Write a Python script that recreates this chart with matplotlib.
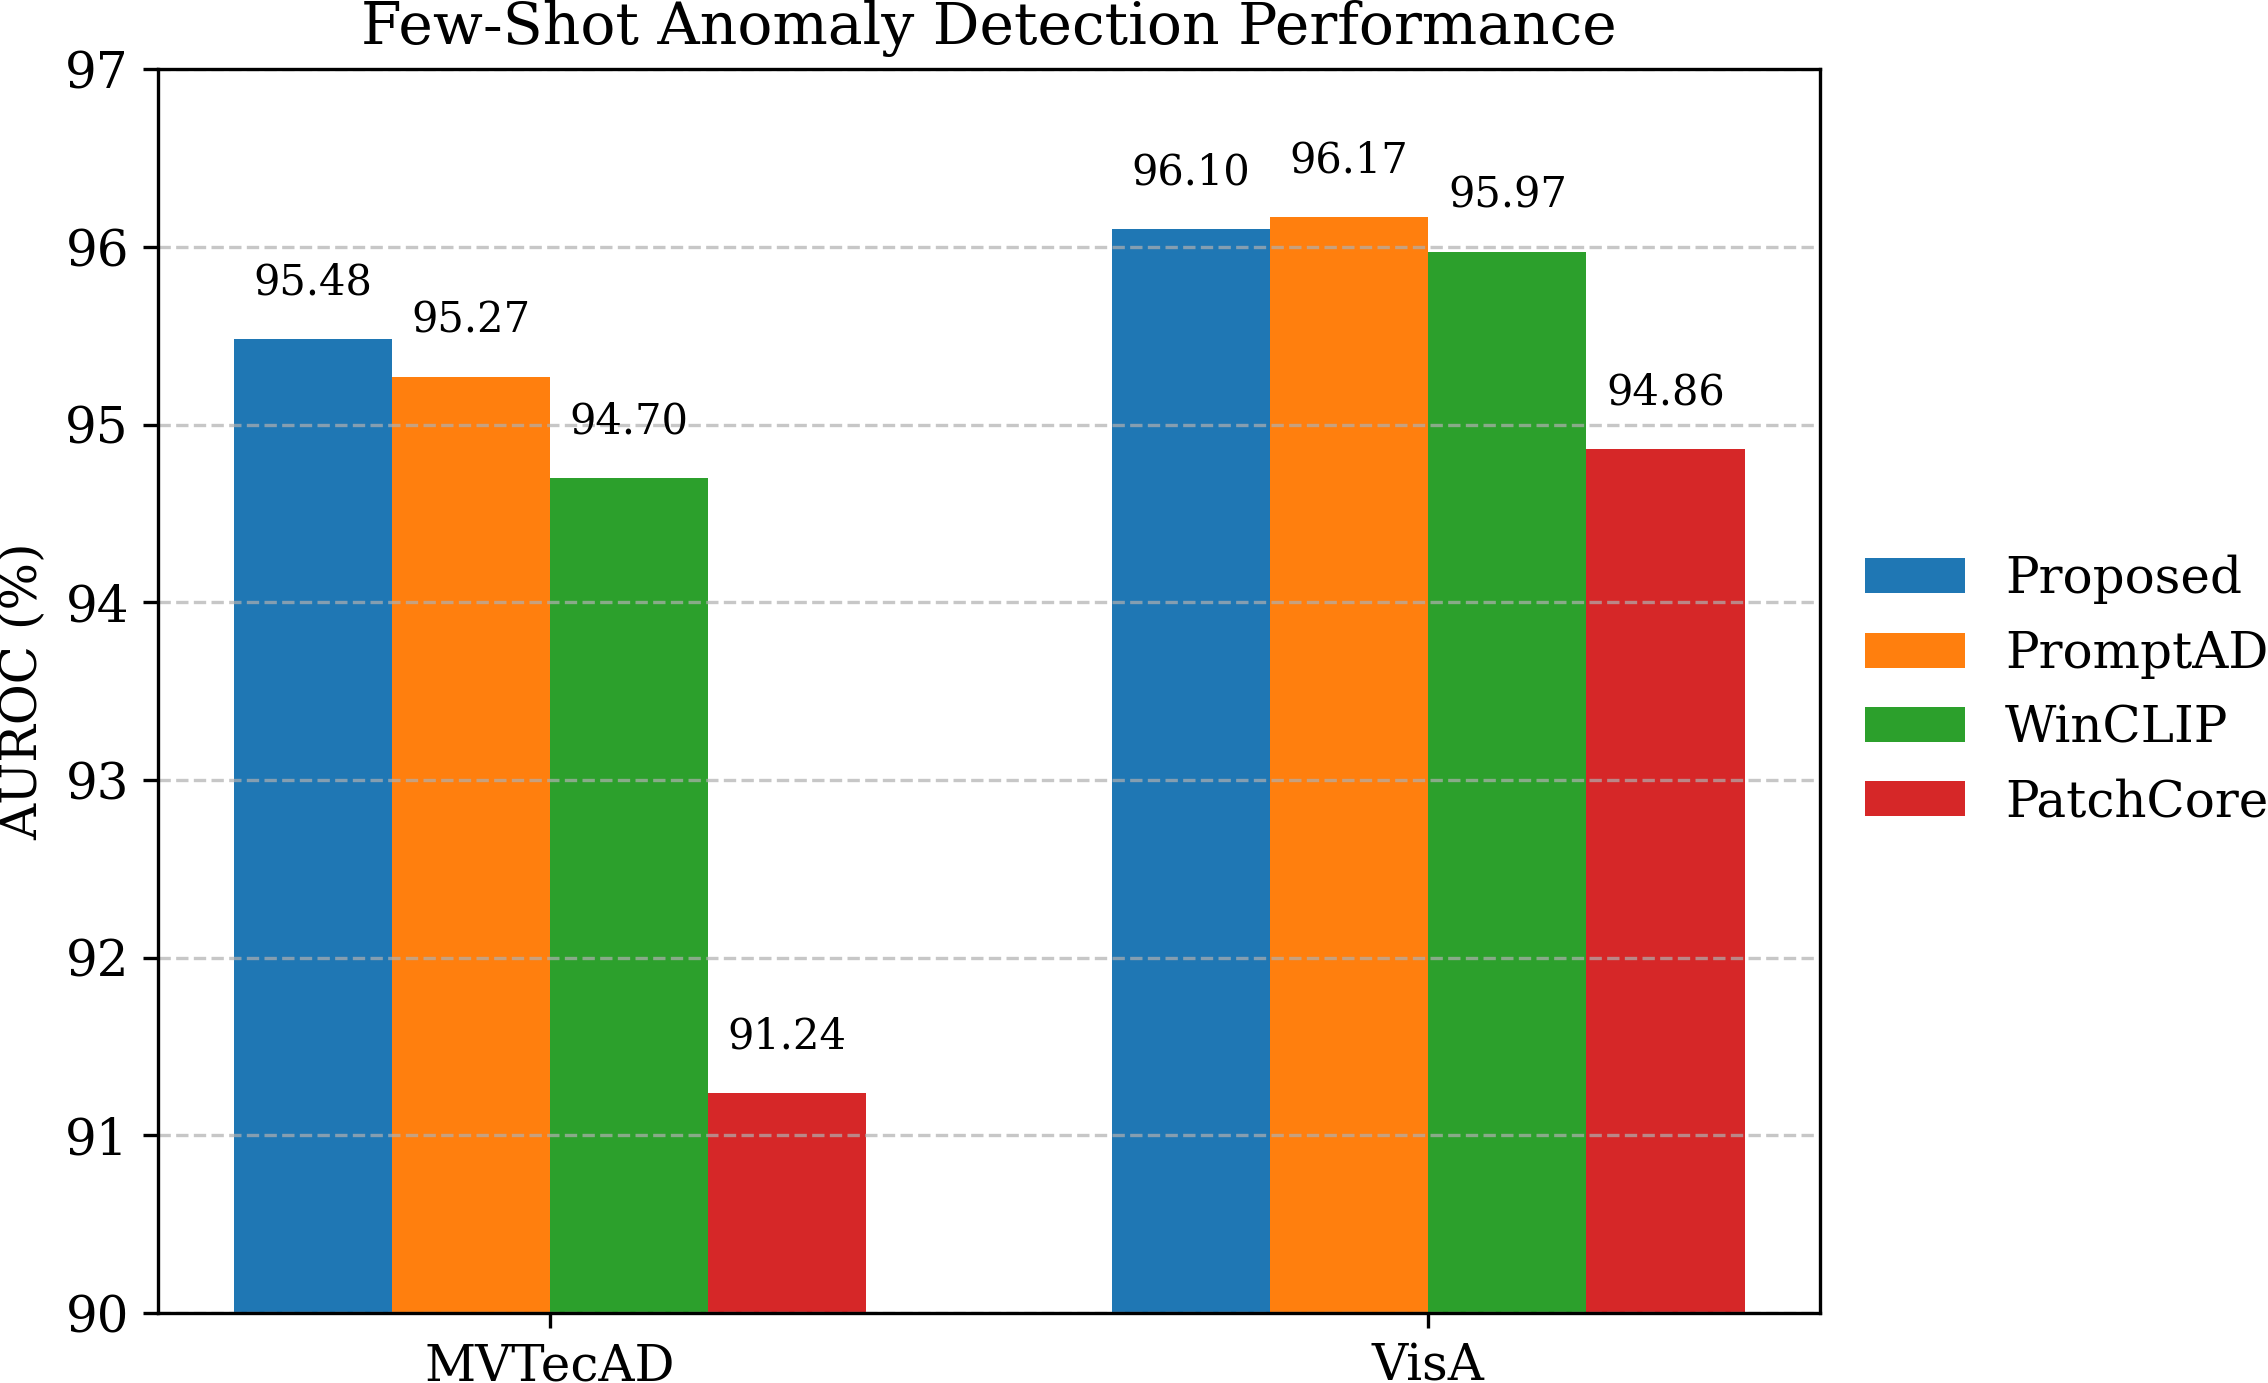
import numpy as np
import matplotlib
matplotlib.use("Agg")
import matplotlib.pyplot as plt

# Datos
datasets = ["MVTecAD", "VisA"]
metodos = ["Proposed", "PromptAD", "WinCLIP", "PatchCore"]
proposed = [95.48, 96.10]
promptad = [95.27, 96.17]
winclip = [94.70, 95.97]
patchcore = [91.24, 94.86]
valores = [proposed, promptad, winclip, patchcore]
colores = ["#1f77b4", "#ff7f0e", "#2ca02c", "#d62728"]

plt.rcParams["font.family"] = "serif"

fig = plt.figure(figsize=(7.56, 4.61), dpi=300)
ax = fig.add_axes([0.0697, 0.0506, 0.7328, 0.8994])

ancho = 0.18
x = np.arange(len(datasets))

for i, metodo in enumerate(metodos):
    pos = x + (i - 1.5) * ancho
    ax.bar(pos, valores[i], width=ancho, color=colores[i], label=metodo)
    # etiqueta con el valor encima de cada barra
    for xi, v in zip(pos, valores[i]):
        ax.text(xi, v + 0.2, f"{v:.2f}", ha="center", va="bottom", fontsize=10)

ax.set_ylim(90, 97)
ax.set_xticks(x)
ax.set_xticklabels(datasets, fontsize=12)
ax.tick_params(axis="y", labelsize=12)
ax.set_ylabel("AUROC (%)", fontsize=12)
ax.set_title("Few-Shot Anomaly Detection Performance", fontsize=14)
ax.grid(True, axis="y", linestyle="--", alpha=0.7)
ax.legend(loc="center left", bbox_to_anchor=(1.0, 0.5), frameon=False, fontsize=12)

fig.savefig("out.png", dpi=300)
